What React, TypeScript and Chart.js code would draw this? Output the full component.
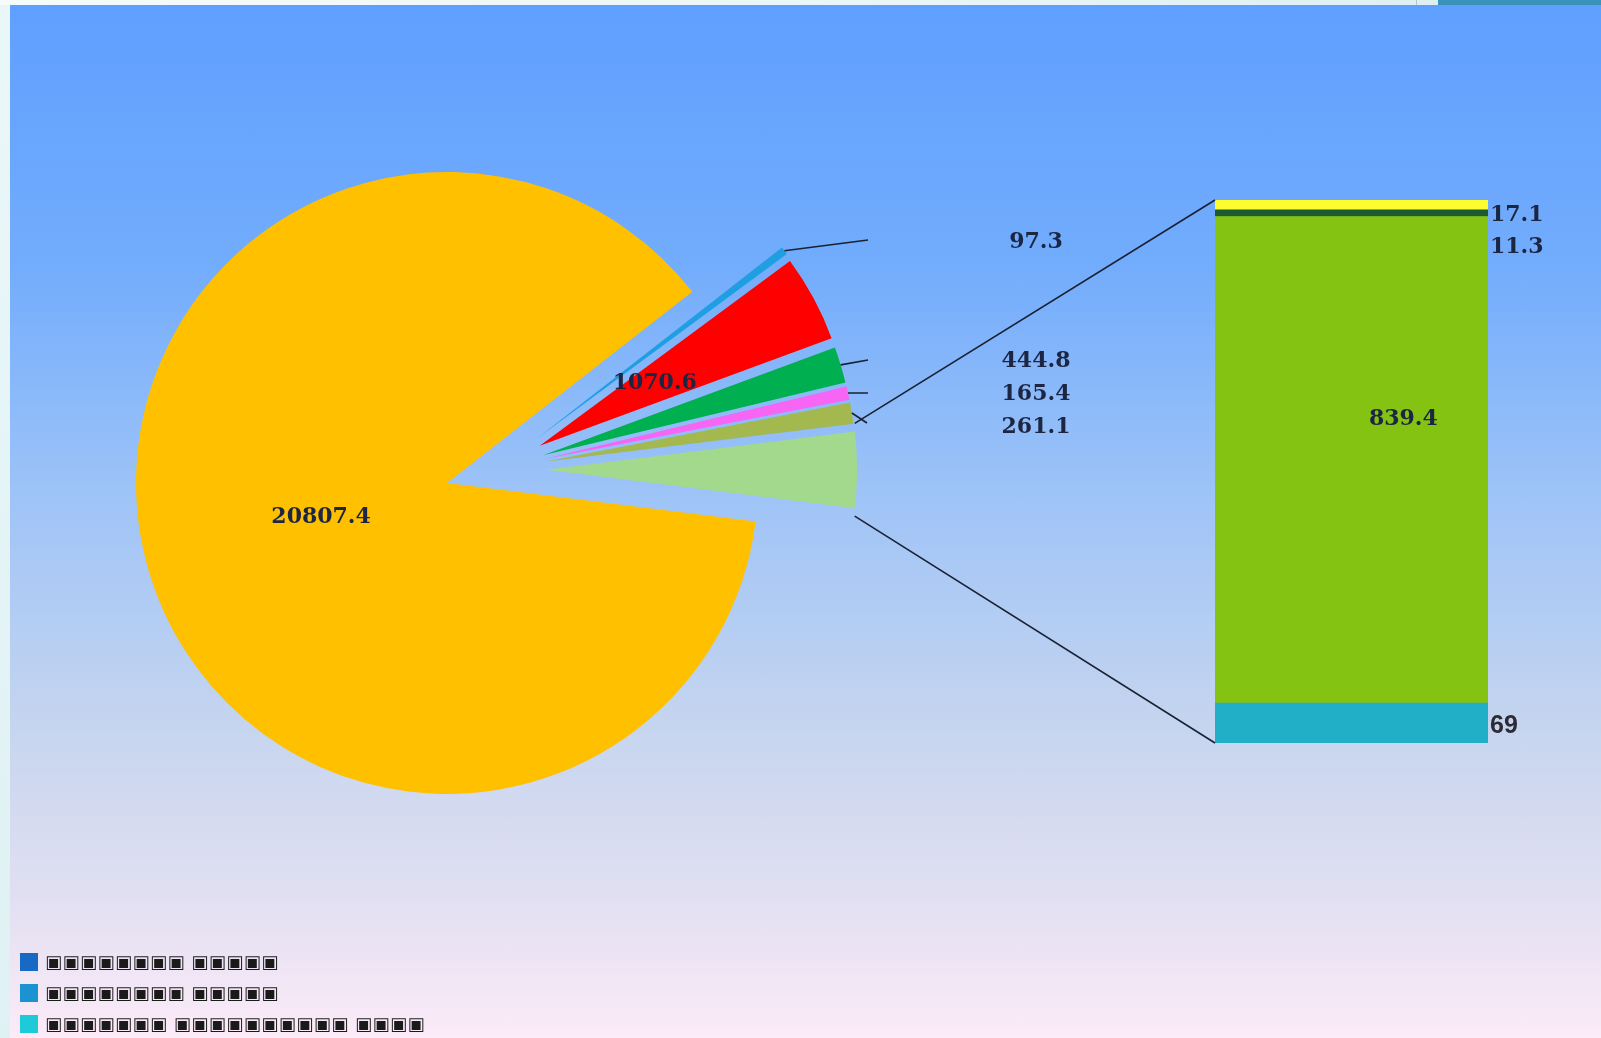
import React, { useEffect, useRef } from "react";
import { Chart, registerables } from "chart.js";

Chart.register(...registerables);

// ---------- data ----------
const pieLabels = ["slice 1", "slice 2", "slice 3", "slice 4", "slice 5", "slice 6"];
const pieValues = [20807.4, 97.3, 1070.6, 444.8, 165.4, 261.1];
const pieColors = ["#ffc000", "#1f9fe2", "#ff0000", "#00b050", "#f765f5", "#a3b84e"];
const otherLabel = "other";
const otherColor = "#a3d98d";

const barLabels = ["bar 1", "bar 2", "bar 3", "bar 4"];
const barValues = [69, 839.4, 11.3, 17.1];
const barColors = ["#21afc8", "#84c312", "#1f5a2f", "#fcfc30"];

const legendLabels = [
  "▣▣▣▣▣▣▣▣ ▣▣▣▣▣",
  "▣▣▣▣▣▣▣▣ ▣▣▣▣▣",
  "▣▣▣▣▣▣▣ ▣▣▣▣▣▣▣▣▣▣ ▣▣▣▣",
];
const legendColors = ["#1769c4", "#1b92d2", "#1ec9d8"];

// ---------- layout (panel coordinates) ----------
const PANEL = { left: 10, top: 5, width: 1591, height: 1033 };
const PIE_CX = 437;
const PIE_CY = 478;
const PIE_R = 311;
const EXPLODE = 100;
const GROUP_CENTER_DEG = -15.4;
const BAR_BOX = { left: 1205, top: 195, width: 273, height: 543 };

// outside labels for pie slices: [textX, textY, leaderEndX, leaderEndY]
const outsideLabelPos: (number[] | null)[] = [
  null,
  [1026, 237, 858, 235],
  null,
  [1026, 356, 858, 355],
  [1026, 389, 858, 388],
  [1026, 422, 857, 418],
  null,
];
const insideLabel = [true, false, true, false, false, false, false];

const SERIF = "bold 22px 'DejaVu Serif'";
const TEXT_COLOR = "#1c2541";

const fmt = (v: number) => String(v);

const explodePlugin = {
  id: "explode",
  afterDatasetsUpdate(chart: any) {
    const arcs = chart.getDatasetMeta(0).data;
    const ca = chart.chartArea;
    const cx = (ca.left + ca.right) / 2;
    const cy = (ca.top + ca.bottom) / 2;
    const gs = arcs[1].startAngle;
    const ge = arcs[arcs.length - 1].endAngle;
    const gm = (gs + ge) / 2;
    arcs.forEach((a: any, i: number) => {
      if (i === 0) return;
      const bis = (a.startAngle + a.endAngle) / 2;
      const phi = (bis + gm) / 2;
      a.x = cx + EXPLODE * Math.cos(phi);
      a.y = cy + EXPLODE * Math.sin(phi);
    });
  },
};

const pieLabelPlugin = {
  id: "pieLabels",
  afterDatasetsDraw(chart: any) {
    const ctx = chart.ctx;
    const arcs = chart.getDatasetMeta(0).data;
    const values = chart.data.datasets[0].data;
    ctx.save();
    ctx.font = SERIF;
    ctx.fillStyle = TEXT_COLOR;
    ctx.textBaseline = "middle";
    ctx.textAlign = "center";
    ctx.strokeStyle = "#1a2133";
    ctx.lineWidth = 1.6;
    arcs.forEach((a: any, i: number) => {
      const bis = (a.startAngle + a.endAngle) / 2;
      const R = a.outerRadius;
      if (insideLabel[i]) {
        const r = 0.42 * R;
        ctx.fillText(fmt(values[i]), a.x + r * Math.cos(bis), a.y + r * Math.sin(bis));
      }
      const pos = outsideLabelPos[i];
      if (pos) {
        const tx = a.x + R * Math.cos(bis);
        const ty = a.y + R * Math.sin(bis);
        ctx.beginPath();
        ctx.moveTo(tx, ty);
        ctx.lineTo(pos[2], pos[3]);
        ctx.stroke();
        ctx.fillText(fmt(values[i]), pos[0], pos[1]);
      }
    });
    ctx.restore();
  },
};

const labelDy = [3, 0, 34, 10];

function makeBarPlugin(pie: any) {
  return {
    id: "barLabels",
    afterDatasetsDraw(chart: any) {
      const ctx = chart.ctx;
      const bars = chart.data.datasets.map((_: any, i: number) => chart.getDatasetMeta(i).data[0]);
      ctx.save();
      ctx.textBaseline = "middle";
      bars.forEach((b: any, i: number) => {
        const top = Math.min(b.y, b.base);
        const bottom = Math.max(b.y, b.base);
        const left = b.x - b.width / 2;
        const right = b.x + b.width / 2;
        const v = chart.data.datasets[i].data[0];
        ctx.fillStyle = TEXT_COLOR;
        if (i === 1) {
          ctx.font = SERIF;
          ctx.textAlign = "center";
          ctx.fillText(fmt(v), left + 0.69 * (right - left), top + 0.417 * (bottom - top));
        } else if (i === 0) {
          ctx.font = "bold 25px 'Liberation Sans'";
          ctx.fillStyle = "#2b2b33";
          ctx.textAlign = "left";
          ctx.fillText(fmt(v), right + 2, (top + bottom) / 2 + labelDy[i]);
        } else {
          ctx.font = SERIF;
          ctx.textAlign = "left";
          ctx.fillText(fmt(v), right + 2, (top + bottom) / 2 + labelDy[i]);
        }
      });
      // connector lines between the "other" slice and the bar
      const arcs = pie.getDatasetMeta(0).data;
      const o = arcs[arcs.length - 1];
      const R = o.outerRadius;
      const p1 = [o.x + R * Math.cos(o.startAngle), o.y + R * Math.sin(o.startAngle) - 8];
      const p2 = [o.x + R * Math.cos(o.endAngle), o.y + R * Math.sin(o.endAngle) + 8];
      const topBar = bars[bars.length - 1];
      const botBar = bars[0];
      const bl = botBar.x - botBar.width / 2;
      ctx.strokeStyle = "#1a2133";
      ctx.lineWidth = 1.6;
      ctx.beginPath();
      ctx.moveTo(p1[0], p1[1]);
      ctx.lineTo(bl, Math.min(topBar.y, topBar.base));
      ctx.moveTo(p2[0], p2[1]);
      ctx.lineTo(bl, Math.max(botBar.y, botBar.base));
      ctx.stroke();
      ctx.restore();
    },
  };
}

export default function App() {
  const pieRef = useRef<HTMLCanvasElement>(null);
  const barRef = useRef<HTMLCanvasElement>(null);

  useEffect(() => {
    const otherValue = barValues.reduce((a, b) => a + b, 0);
    const allValues = [...pieValues, otherValue];
    const total = allValues.reduce((a, b) => a + b, 0);
    const smallDeg = (360 * (total - pieValues[0])) / total;
    const rotation = GROUP_CENTER_DEG + smallDeg / 2 + 90;
    const half = 350;

    const pie = new Chart(pieRef.current as HTMLCanvasElement, {
      type: "pie",
      data: {
        labels: [...pieLabels, otherLabel],
        datasets: [
          {
            data: allValues,
            backgroundColor: [...pieColors, otherColor],
            borderWidth: 0,
            radius: PIE_R,
          } as any,
        ],
      },
      options: {
        responsive: false,
        animation: false,
        events: [],
        rotation,
        circumference: 360,
        radius: PIE_R,
        layout: {
          padding: {
            left: PIE_CX - half,
            top: PIE_CY - half,
            right: PANEL.width - PIE_CX - half,
            bottom: PANEL.height - PIE_CY - half,
          },
        },
        plugins: { legend: { display: false }, tooltip: { enabled: false } },
      } as any,
      plugins: [explodePlugin, pieLabelPlugin],
    });

    const barTotal = barValues.reduce((a, b) => a + b, 0);
    const bar = new Chart(barRef.current as HTMLCanvasElement, {
      type: "bar",
      data: {
        labels: [otherLabel],
        datasets: barValues.map((v, i) => ({
          label: barLabels[i],
          data: [v],
          backgroundColor: barColors[i],
          borderWidth: 0,
          barPercentage: 1,
          categoryPercentage: 1,
        })),
      },
      options: {
        responsive: false,
        animation: false,
        events: [],
        layout: {
          padding: {
            left: BAR_BOX.left,
            top: BAR_BOX.top,
            right: PANEL.width - BAR_BOX.left - BAR_BOX.width,
            bottom: PANEL.height - BAR_BOX.top - BAR_BOX.height,
          },
        },
        scales: {
          x: { stacked: true, display: false },
          y: { stacked: true, display: false, min: 0, max: barTotal },
        },
        plugins: { legend: { display: false }, tooltip: { enabled: false } },
      } as any,
      plugins: [makeBarPlugin(pie)],
    });

    return () => {
      bar.destroy();
      pie.destroy();
    };
  }, []);

  return (
    <div
      style={{
        position: "absolute",
        left: 0,
        top: 0,
        width: 1601,
        height: 1038,
        overflow: "hidden",
        background: "linear-gradient(90deg, #f6fbfc 0%, #e8f5f6 60%, #d9eef0 100%)",
      }}
    >
      <div style={{ position: "absolute", left: 1416, top: 0, width: 1, height: 5, background: "#bcc4c6" }} />
      <div style={{ position: "absolute", left: 1438, top: 0, width: 163, height: 5, background: "#3992ba" }} />
      <div
        style={{
          position: "absolute",
          left: 0,
          top: 5,
          width: 10,
          height: 1033,
          background: "linear-gradient(180deg, #eaf7f9 0%, #dff1f4 100%)",
        }}
      />
      <div
        style={{
          position: "absolute",
          left: PANEL.left,
          top: PANEL.top,
          width: PANEL.width,
          height: PANEL.height,
          background:
            "linear-gradient(180deg, #5f9fff 0%, #72acfc 25%, #9fc4f7 48%, #c6d5ef 70%, #e2e0f2 87%, #fcebf8 100%)",
        }}
      >
        <canvas
          ref={pieRef}
          width={PANEL.width}
          height={PANEL.height}
          style={{ position: "absolute", left: 0, top: 0, width: PANEL.width, height: PANEL.height }}
        />
        <canvas
          ref={barRef}
          width={PANEL.width}
          height={PANEL.height}
          style={{ position: "absolute", left: 0, top: 0, width: PANEL.width, height: PANEL.height }}
        />
        {legendLabels.map((t, i) => (
          <div
            key={i}
            style={{
              position: "absolute",
              left: 10,
              top: 946 + i * 31,
              height: 22,
              display: "flex",
              alignItems: "center",
              whiteSpace: "pre",
            }}
          >
            <div style={{ width: 18, height: 18, background: legendColors[i], marginRight: 7 }} />
            <span
              style={{
                fontFamily: "'DejaVu Sans'",
                fontSize: 18,
                letterSpacing: 0.5,
                color: "#1a1a1a",
                lineHeight: "22px",
              }}
            >
              {t}
            </span>
          </div>
        ))}
      </div>
    </div>
  );
}
